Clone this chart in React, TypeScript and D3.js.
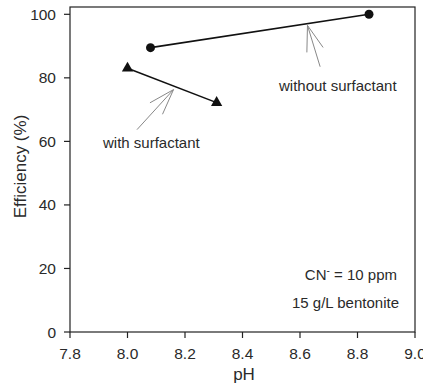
import React from 'react';
import * as d3 from 'd3';

// pH values and removal efficiency (%)
const withoutPH = [8.08, 8.84];
const withoutEff = [89.5, 100];
const withPH = [8.0, 8.31];
const withEff = [83, 72.2];

const xTicks = [7.8, 8.0, 8.2, 8.4, 8.6, 8.8, 9.0];
const yTicks = [0, 20, 40, 60, 80, 100];

const W = 423, H = 387;
const margin = { top: 7, right: 8, bottom: 55, left: 70 };

export default function App() {
  const x = d3.scaleLinear().domain([7.8, 9.0]).range([margin.left, W - margin.right]);
  const y = d3.scaleLinear().domain([0, 102.3]).range([H - margin.bottom, margin.top]);

  const line = d3.line<[number, number]>()
    .x(d => x(d[0]))
    .y(d => y(d[1]));

  const without = withoutPH.map((p, i) => [p, withoutEff[i]] as [number, number]);
  const withS = withPH.map((p, i) => [p, withEff[i]] as [number, number]);

  const tri = d3.symbol().type(d3.symbolTriangle).size(55)();
  const font = "Arial, 'Liberation Sans', sans-serif";
  const txt = '#2a2a2a';
  const y0 = H - margin.bottom;

  // arrow helper: tail -> tip in data coords, open arrowhead
  const arrow = (tail: [number, number], tip: [number, number]) => {
    const x1 = x(tail[0]), y1 = y(tail[1]), x2 = x(tip[0]), y2 = y(tip[1]);
    const ang = Math.atan2(y1 - y2, x1 - x2);
    const len = 27, spread = 0.32;
    const b1: [number, number] = [x2 + len * Math.cos(ang + spread), y2 + len * Math.sin(ang + spread)];
    const b2: [number, number] = [x2 + len * Math.cos(ang - spread), y2 + len * Math.sin(ang - spread)];
    return (
      <g stroke="#888" strokeWidth={1} fill="none">
        <line x1={x1} y1={y1} x2={x2} y2={y2} />
        <line x1={b1[0]} y1={b1[1]} x2={x2} y2={y2} />
        <line x1={b2[0]} y1={b2[1]} x2={x2} y2={y2} />
      </g>
    );
  };

  return (
    <svg width={W} height={H} style={{ position: 'absolute', left: 0, top: 0, background: '#fff' }}>
      {/* frame */}
      <rect x={margin.left} y={margin.top} width={W - margin.right - margin.left} height={y0 - margin.top}
        fill="none" stroke="#222" strokeWidth={1.2} />
      {/* y ticks */}
      {yTicks.map(t => (
        <g key={'y' + t}>
          <line x1={margin.left - 6} x2={margin.left} y1={y(t)} y2={y(t)} stroke="#222" strokeWidth={1.2} />
          <text x={margin.left - 14} y={y(t) + 5.5} textAnchor="end" fontSize={15.5} fontFamily={font} fill={txt}>{t}</text>
        </g>
      ))}
      {/* x ticks */}
      {xTicks.map(t => (
        <g key={'x' + t}>
          <line x1={x(t)} x2={x(t)} y1={y0} y2={y0 + 6} stroke="#222" strokeWidth={1.2} />
          <text x={x(t)} y={y0 + 27} textAnchor="middle" fontSize={15.5} fontFamily={font} fill={txt}>{t.toFixed(1)}</text>
        </g>
      ))}
      <text x={244} y={380} textAnchor="middle" fontSize={17} fontFamily={font} fill={txt}>pH</text>
      <text transform={`translate(26,166.5) rotate(-90)`} textAnchor="middle" fontSize={17} fontFamily={font} fill={txt}>Efficiency (%)</text>

      {/* series */}
      <path d={line(without) || ''} fill="none" stroke="#111" strokeWidth={1.6} />
      {without.map((d, i) => <circle key={'c' + i} cx={x(d[0])} cy={y(d[1])} r={4.5} fill="#111" />)}
      <path d={line(withS) || ''} fill="none" stroke="#111" strokeWidth={1.6} />
      {withS.map((d, i) => <path key={'t' + i} d={tri || ''} transform={`translate(${x(d[0])},${y(d[1])})`} fill="#111" />)}

      {/* annotations */}
      {arrow([8.67, 83.5], [8.626, 96.5])}
      {arrow([8.033, 63.7], [8.16, 76.3])}
      <text x={279} y={91} fontSize={15} fontFamily={font} fill={txt}>without surfactant</text>
      <text x={103} y={148} fontSize={15} fontFamily={font} fill={txt}>with surfactant</text>
      <text x={397} y={280} textAnchor="end" fontSize={15} fontFamily={font} fill={txt}>
        CN<tspan dy={-6} fontSize={10}>-</tspan><tspan dy={6}> = 10 ppm</tspan>
      </text>
      <text x={399} y={308} textAnchor="end" fontSize={15} fontFamily={font} fill={txt}>15 g/L bentonite</text>
    </svg>
  );
}
